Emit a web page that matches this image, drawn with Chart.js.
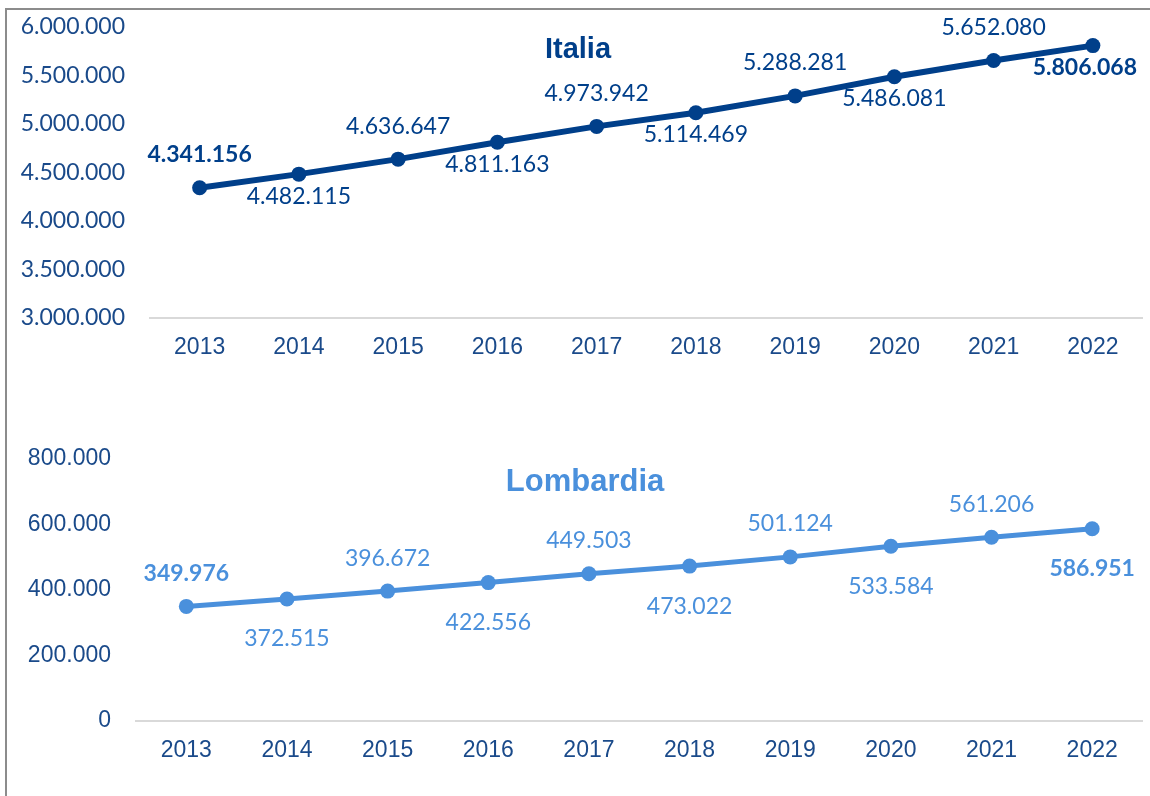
<!DOCTYPE html>
<html>
<head>
<meta charset="utf-8">
<script src="https://cdn.jsdelivr.net/npm/chart.js@4.4.1/dist/chart.umd.min.js"></script>
<style>
  body { margin: 0; background: #fff; width: 1150px; height: 796px; overflow: hidden; position: relative; }
  .cornice { position: absolute; left: 5px; top: 8px; width: 1300px; height: 1000px; border: 2px solid #8c8c8c; }
  .box { position: absolute; left: 0; width: 1150px; }
  .titolo { position: absolute; width: 300px; text-align: center; font-family: "Liberation Sans", Arial, sans-serif; font-weight: bold; }
</style>
</head>
<body>
<div class="cornice"></div>
<div class="box" style="top:-4px;height:384px"><canvas id="grafItalia"></canvas></div>
<div class="box" style="top:390px;height:406px"><canvas id="grafLombardia"></canvas></div>
<div class="titolo" style="left:428px;top:34px;font-size:29px;line-height:29px;color:#003f8a">Italia</div>
<div class="titolo" style="left:435px;top:465px;font-size:31px;line-height:31px;color:#4a90dc">Lombardia</div>
<script>
const anni = ['2013', '2014', '2015', '2016', '2017', '2018', '2019', '2020', '2021', '2022'];
const italia = [4341156, 4482115, 4636647, 4811163, 4973942, 5114469, 5288281, 5486081, 5652080, 5806068];
const lombardia = [349976, 372515, 396672, 422556, 449503, 473022, 501124, 533584, 561206, 586951];
const tickItalia = [3000000, 3500000, 4000000, 4500000, 5000000, 5500000, 6000000];
const tickLombardia = [0, 200000, 400000, 600000, 800000];

const blu = '#003f8a';
const azzurro = '#4a90dc';
const testoAssi = '#1a4a8a';

function puntini(n) {
    return String(n).replace(/\B(?=(\d{3})+(?!\d))/g, '.');
}

// etichette alternate sopra/sotto, prima e ultima in grassetto
const etichette = {
    id: 'etichette',
    afterDatasetsDraw(chart, args, opts) {
        const ctx = chart.ctx;
        const meta = chart.getDatasetMeta(0);
        const dati = chart.data.datasets[0].data;
        ctx.save();
        ctx.fillStyle = opts.colore;
        ctx.textAlign = 'center';
        ctx.textBaseline = 'middle';
        meta.data.forEach((p, i) => {
            const grassetto = i === 0 || i === dati.length - 1;
            ctx.font = (grassetto ? 'bold ' : '') + '23px Lato';
            const testo = puntini(dati[i]);
            const w = ctx.measureText(testo).width;
            let x = p.x;
            if (x + w / 2 > 1137) x = 1137 - w / 2;
            const y = i % 2 === 0 ? p.y - opts.sopra : p.y + opts.sotto;
            ctx.fillText(testo, x, y);
        });
        ctx.restore();
    }
};

function creaGrafico(id, valori, ticks, colore, spessore, cfg) {
    const ctx = document.getElementById(id).getContext('2d');
    return new Chart(ctx, {
        type: 'line',
        data: {
            labels: anni,
            datasets: [{
                data: valori,
                borderColor: colore,
                backgroundColor: colore,
                borderWidth: spessore,
                pointRadius: 7.5,
                pointHoverRadius: 7.5,
                pointBackgroundColor: colore,
                pointBorderWidth: 0,
                tension: 0
            }]
        },
        plugins: [etichette],
        options: {
            responsive: true,
            maintainAspectRatio: false,
            animation: false,
            layout: { padding: { top: cfg.top, right: cfg.right, left: 0, bottom: 0 } },
            plugins: {
                legend: { display: false },
                tooltip: { enabled: false },
                etichette: { colore: colore, sopra: cfg.sopra, sotto: cfg.sotto }
            },
            scales: {
                x: {
                    offset: true,
                    grid: { display: false },
                    border: { display: true, color: '#d9d9d9', width: 2 },
                    ticks: {
                        color: testoAssi,
                        padding: 8,
                        maxRotation: 0,
                        font: { family: 'Liberation Sans', size: 23 }
                    },
                    afterFit: function (scale) { scale.height = cfg.altezzaX; }
                },
                y: {
                    min: ticks[0],
                    max: ticks[ticks.length - 1],
                    grid: { display: false },
                    border: { display: false },
                    afterBuildTicks: function (scale) {
                        scale.ticks = ticks.map(v => ({ value: v }));
                    },
                    ticks: {
                        color: testoAssi,
                        padding: cfg.padY,
                        font: { family: cfg.fontY, size: 23 },
                        callback: function (value) { return puntini(value); }
                    },
                    afterFit: function (scale) { scale.width = cfg.larghezzaY; }
                }
            }
        }
    });
}

creaGrafico('grafItalia', italia, tickItalia, blu, 6, {
    top: 10, right: 4, altezzaX: 62, larghezzaY: 150, padY: 17, fontY: 'Lato', sopra: 33, sotto: 22
});
creaGrafico('grafLombardia', lombardia, tickLombardia, azzurro, 5, {
    top: 69, right: 0, altezzaX: 75, larghezzaY: 136, padY: 17, fontY: 'Liberation Sans', sopra: 33, sotto: 40
});
</script>
</body>
</html>
